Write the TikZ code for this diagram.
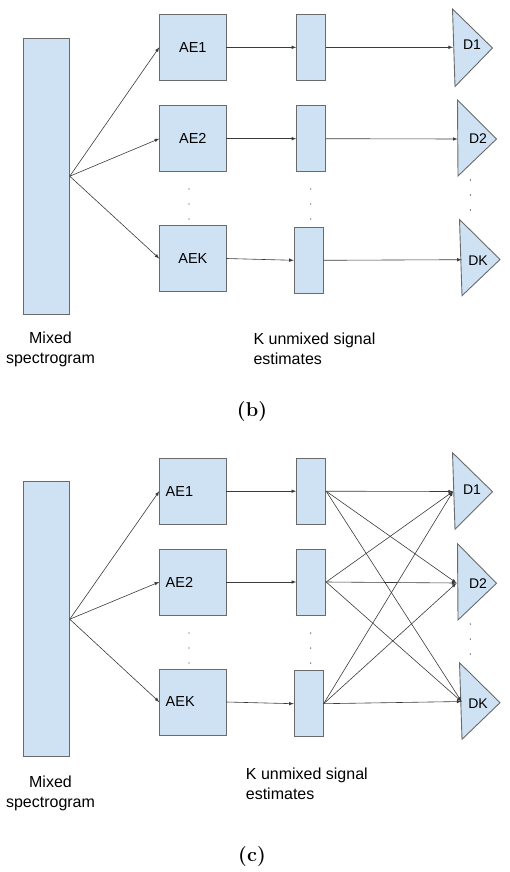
\documentclass[tikz,border=0pt]{standalone}
\usepackage{fontspec}
\newfontfamily\arialfont{Liberation Sans}
\definecolor{boxblue}{HTML}{CFE2F3}
\definecolor{boxline}{HTML}{6A6A6A}
\definecolor{wirecol}{HTML}{3A3A3A}

\begin{document}
\begin{tikzpicture}[x=1pt, y=-1pt, >=latex,
    box/.style={draw=boxline, fill=boxblue, line width=0.9pt, inner sep=0pt},
    aebox/.style={box, minimum width=66.3, minimum height=66,
      font=\arialfont\fontsize{14.5}{16}\selectfont},
    sbox/.style={box, minimum width=29, minimum height=66},
    dlbl/.style={font=\arialfont\fontsize{14}{16}\selectfont, inner sep=0pt},
    wire/.style={draw=wirecol, line width=0.6pt, ->},
    lbl/.style={font=\arialfont\fontsize{16}{20}\selectfont, inner sep=0pt},
    subcap/.style={font=\fontsize{20}{24}\selectfont\bfseries, inner sep=0pt}]
      \useasboundingbox (0,0) rectangle (509,872);

      % (b)
      \begin{scope}[name prefix=b-]
      \node[box, minimum width=45.6, minimum height=275.7] (mix) at (46.5,176.2) {};
      \node[aebox] (ae1) at (192.85,47.3) {AE1};
      \node[aebox] (ae2) at (192.85,138.7) {AE2};
      \node[aebox] (aek) at (192.85,258.5) {AEK};
      \node[sbox] (s1) at (311.2,47.3) {};
      \node[sbox] (s2) at (311.2,138.7) {};
      \node[sbox] (sk) at (308.7,260.3) {};

      \draw[box] (452.5,9) -- (492.5,48) -- (455,86.5) -- cycle;
      \draw[box] (457.5,100) -- (496.5,139) -- (458,176) -- cycle;
      \draw[box] (459.5,219.5) -- (500,259.5) -- (462,295.7) -- cycle;
      \node[dlbl] (d1) at (472,45) {D1};
      \node[dlbl] (d2) at (478,139) {D2};
      \node[dlbl] (dk) at (478,260.7) {DK};
      \coordinate (d1in) at (453,47.3);
      \coordinate (d2in) at (457.7,139);
      \coordinate (dkin) at (461.7,259.7);

      \foreach \a in {ae1,ae2,aek} \draw[wire] (mix.east) -- (\a.west);
      \draw[wire] (ae1.east) -- (s1.west);
      \draw[wire] (ae2.east) -- (s2.west);
      \draw[wire] (aek.east) -- (sk.west);
      \draw[wire] (s1.east) -- (d1in);
      \draw[wire] (s2.east) -- (d2in);
      \draw[wire] (sk.east) -- (dkin);

      \foreach \y in {189,204,219} {
        \fill[wirecol] (189,\y) circle [radius=0.7];
        \fill[wirecol] (310.7,\y) circle [radius=0.7];
      }
      \foreach \y in {180,195,210} \fill[wirecol] (470.3,\y) circle [radius=0.7];

      \node[lbl, align=center] (mixlbl) at (50.5,349) {Mixed\\spectrogram};
      \node[lbl, align=left, anchor=west] (estlbl) at (253.3,349) {K unmixed signal\\estimates};
      \node[subcap] (capb) at (252,412) {(b)};
      \end{scope}

      % (c)
      \begin{scope}[shift={(0,444)}, name prefix=c-,
        aebox/.append style={text width=54.3, inner xsep=6, align=left}]
      \node[box, minimum width=45.6, minimum height=275] (mix) at (46.5,175.2) {};
      \node[aebox] (ae1) at (192.85,47.2) {AE1};
      \node[aebox] (ae2) at (192.85,138) {AE2};
      \node[aebox] (aek) at (192.85,258) {AEK};
      \node[sbox] (s1) at (311.2,47.2) {};
      \node[sbox] (s2) at (311.2,138) {};
      \node[sbox] (sk) at (308.7,259.7) {};

      \draw[box] (452.5,8.7) -- (492.5,47.7) -- (455,85.3) -- cycle;
      \draw[box] (457.5,99.7) -- (496.5,139.3) -- (458,176) -- cycle;
      \draw[box] (459.5,218.7) -- (500,258.7) -- (462,295.3) -- cycle;
      \node[dlbl] (d1) at (472,46) {D1};
      \node[dlbl] (d2) at (478,139.5) {D2};
      \node[dlbl] (dk) at (478,260) {DK};
      \coordinate (d1in) at (453,47.5);
      \coordinate (d2in) at (456.5,139);
      \coordinate (dkin) at (461.5,257.5);

      \foreach \a in {ae1,ae2,aek} \draw[wire] (mix.east) -- (\a.west);
      \draw[wire] (ae1.east) -- (s1.west);
      \draw[wire] (ae2.east) -- (s2.west);
      \draw[wire] (aek.east) -- (sk.west);
      \foreach \s in {s1,s2,sk}
        \foreach \d in {d1in,d2in,dkin}
          \draw[wire] (\s.east) -- (\d);

      \foreach \y in {189,204,219} {
        \fill[wirecol] (189,\y) circle [radius=0.7];
        \fill[wirecol] (310.7,\y) circle [radius=0.7];
      }
      \foreach \y in {180,195,210} \fill[wirecol] (470.3,\y) circle [radius=0.7];

      \node[lbl, align=center] (mixlbl) at (50.5,349) {Mixed\\spectrogram};
      \node[lbl, align=left, anchor=west] (estlbl) at (245.7,339.8) {K unmixed signal\\estimates};
      \node[subcap] (capc) at (252,412.7) {(c)};
      \end{scope}
    \end{tikzpicture}
\end{document}
